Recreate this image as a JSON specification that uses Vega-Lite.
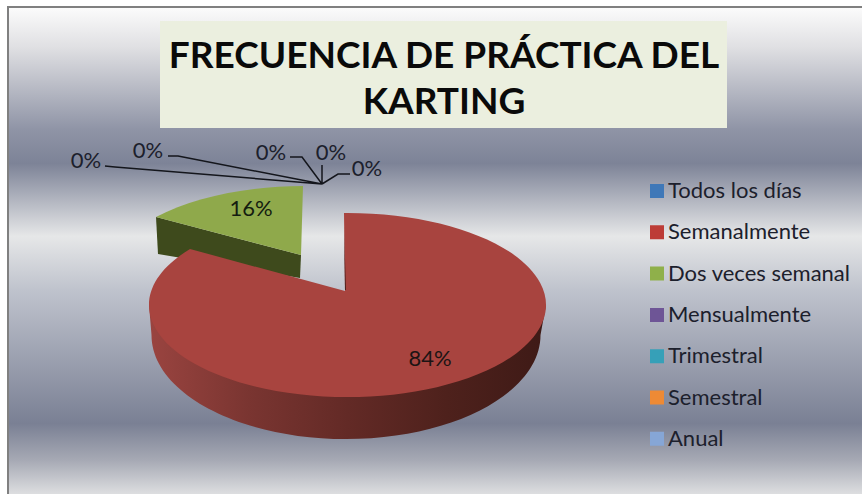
{
"$schema":"https://vega.github.io/schema/vega-lite/v6.json",
"width":862,"height":494,"autosize":{"type":"none"},"padding":0,"background":"#ffffff",
"view":{"stroke":null},
"config":{"style":{"cell":{"stroke":null}}},
"title":{"text":["FRECUENCIA DE PRÁCTICA DEL","KARTING"],"font":"Lato","fontWeight":"bold","fontSize":37,"lineHeight":46,"color":"#0a0a0a","anchor":"middle","dx":13,"dy":122,"offset":0},
"data":{"values":[
{"categoria":"Todos los días","porcentaje":0},
{"categoria":"Semanalmente","porcentaje":0.84},
{"categoria":"Dos veces semanal","porcentaje":0.16},
{"categoria":"Mensualmente","porcentaje":0},
{"categoria":"Trimestral","porcentaje":0},
{"categoria":"Semestral","porcentaje":0},
{"categoria":"Anual","porcentaje":0}
]},
"layer":[
{"data":{"values":[{"fondo":1}]},"mark":{"type":"rect","fill":{"gradient":"linear","x1":0,"y1":0,"x2":0,"y2":1,"stops":[
{"offset":0,"color":"#FBFBFB"},{"offset":0.08,"color":"#E0E0E3"},{"offset":0.25,"color":"#8F94A6"},{"offset":0.32,"color":"#7D8397"},{"offset":0.47,"color":"#E6E7E8"},{"offset":0.58,"color":"#BFC3CD"},{"offset":0.855,"color":"#7A8094"},{"offset":0.93,"color":"#A6A9B4"},{"offset":1,"color":"#DDDEE0"}]}},
"encoding":{"x":{"value":9},"x2":{"value":862},"y":{"value":8},"y2":{"value":494}}},
{"data":{"values":[{"borde":1}]},"mark":{"type":"point","shape":"M-423,247L-423,-240L431,-240","filled":false,"stroke":"#808080","strokeWidth":2,"size":4,"opacity":1},"encoding":{}},
{"data":{"values":[{"caja":1}]},"mark":{"type":"rect","fill":"#EBEFDF"},"encoding":{"x":{"value":160},"x2":{"value":727},"y":{"value":21},"y2":{"value":128}}},
{"mark":{"type":"point","shape":"square","opacity":0,"size":1},
 "encoding":{"fill":{"field":"categoria","type":"nominal","sort":null,
  "scale":{"domain":["Todos los días","Semanalmente","Dos veces semanal","Mensualmente","Trimestral","Semestral","Anual"],"range":["#3F78B8","#BD3C37","#8FB04A","#6E5596","#36A0B8","#EE8A35","#86A6D6"]},
  "legend":{"orient":"none","legendX":646,"legendY":180,"title":null,"symbolType":"square","symbolSize":196,"symbolOpacity":1,"symbolStrokeWidth":0,"labelFont":"Lato","labelFontSize":22,"labelColor":"#1c202c","labelOffset":0,"rowPadding":19.3,"clipHeight":22,"labelLimit":220}}}},
{"transform":[{"filter":"datum.categoria==='Dos veces semanal'"}],"mark":{"type":"point","shape":"M-275,-30L-273,7L-131,31L-130,8Z","filled":true,"fill":"#3E4A1C","strokeWidth":0,"size":4,"opacity":1},"encoding":{}},
{"transform":[{"filter":"datum.categoria==='Dos veces semanal'"}],"mark":{"type":"point","shape":"M-130,8L-128,-61A198.5,92,0,0,0,-275,-30Z","filled":true,"fill":"#8FA94B","strokeWidth":0,"size":4,"opacity":1},"encoding":{}},
{"transform":[{"filter":"datum.categoria==='Semanalmente'"}],"mark":{"type":"point","shape":"M-282,58L-279.5,88A194.5,104,0,0,0,109.5,88L115,58Z","filled":true,"strokeWidth":0,"size":4,"opacity":1,"fill":{"gradient":"linear","x1":0,"y1":0,"x2":1,"y2":0,"stops":[{"offset":0,"color":"#9A4440"},{"offset":0.25,"color":"#7A3531"},{"offset":0.5,"color":"#632A26"},{"offset":0.75,"color":"#4E211C"},{"offset":1,"color":"#3E1A16"}]}},"encoding":{}},
{"transform":[{"filter":"datum.categoria==='Semanalmente'"}],"mark":{"type":"point","shape":"M-86,44L-87,-34A198.5,92,0,1,1,-241,2Z","filled":true,"fill":"#A8443F","strokeWidth":0,"size":4,"opacity":1},"encoding":{}},
{"transform":[{"filter":"datum.categoria==='Semanalmente'"}],"mark":{"type":"point","shape":"M-87,-20L-85,43L-86,43Z","filled":true,"fill":"#4A1F1C","strokeWidth":0,"size":4,"opacity":1},"encoding":{}},
{"data":{"values":[{"guias":1}]},"mark":{"type":"point","shape":"M-326,-81L-316,-80L-109,-63M-263,-91L-253,-91L-109,-63M-141,-90L-129,-90L-109,-63M-109,-82L-109,-63M-81,-73L-93,-73L-109,-63","filled":false,"stroke":"#14161c","strokeWidth":1.5,"size":4,"opacity":1},"encoding":{}},
{"transform":[{"filter":"datum.categoria==='Semanalmente'"}],"mark":{"type":"text","x":430,"y":359,"font":"Lato","fontSize":22,"color":"#1c1414"},"encoding":{"text":{"field":"porcentaje","type":"quantitative","format":".0%"}}},
{"transform":[{"filter":"datum.categoria==='Dos veces semanal'"}],"mark":{"type":"text","x":251,"y":209,"font":"Lato","fontSize":22,"color":"#141c10"},"encoding":{"text":{"field":"porcentaje","type":"quantitative","format":".0%"}}},
{"transform":[{"filter":"datum.categoria==='Todos los días'"}],"mark":{"type":"text","x":331,"y":153,"font":"Lato","fontSize":22,"color":"#1c202c"},"encoding":{"text":{"field":"porcentaje","type":"quantitative","format":".0%"}}},
{"transform":[{"filter":"datum.categoria==='Mensualmente'"}],"mark":{"type":"text","x":86,"y":161,"font":"Lato","fontSize":22,"color":"#1c202c"},"encoding":{"text":{"field":"porcentaje","type":"quantitative","format":".0%"}}},
{"transform":[{"filter":"datum.categoria==='Trimestral'"}],"mark":{"type":"text","x":148,"y":151,"font":"Lato","fontSize":22,"color":"#1c202c"},"encoding":{"text":{"field":"porcentaje","type":"quantitative","format":".0%"}}},
{"transform":[{"filter":"datum.categoria==='Semestral'"}],"mark":{"type":"text","x":271,"y":153,"font":"Lato","fontSize":22,"color":"#1c202c"},"encoding":{"text":{"field":"porcentaje","type":"quantitative","format":".0%"}}},
{"transform":[{"filter":"datum.categoria==='Anual'"}],"mark":{"type":"text","x":367,"y":169,"font":"Lato","fontSize":22,"color":"#1c202c"},"encoding":{"text":{"field":"porcentaje","type":"quantitative","format":".0%"}}}
]
}
